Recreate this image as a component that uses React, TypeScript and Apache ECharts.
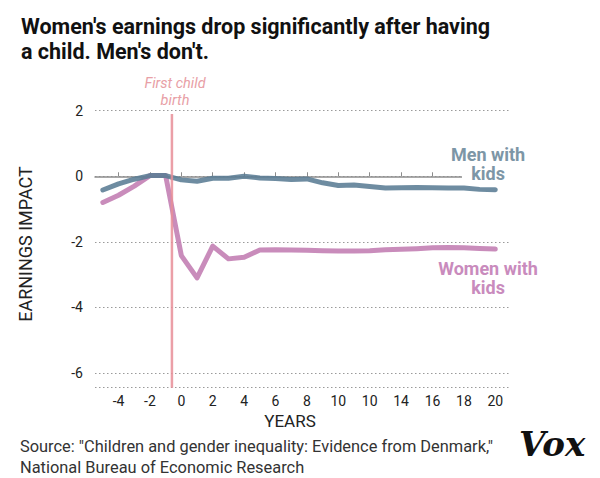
import React, { useEffect, useRef } from 'react';
import * as echarts from 'echarts';

// years relative to first child birth
const years = [-5, -4, -3, -2, -1, 0, 1, 2, 3, 4, 5, 6, 7, 8, 9, 10, 11, 12, 13, 14, 15, 16, 17, 18, 19, 20];
const menImpact = [-0.42, -0.23, -0.09, 0.02, 0.02, -0.11, -0.15, -0.06, -0.06, 0.0, -0.05, -0.07, -0.1, -0.08, -0.2, -0.28, -0.27, -0.31, -0.36, -0.35, -0.34, -0.35, -0.36, -0.36, -0.4, -0.41];
const womenImpact = [-0.8, -0.58, -0.3, 0.02, 0.02, -2.42, -3.1, -2.13, -2.52, -2.47, -2.25, -2.24, -2.25, -2.26, -2.27, -2.28, -2.28, -2.27, -2.24, -2.23, -2.21, -2.18, -2.17, -2.18, -2.2, -2.22];

// the source chart labels 12 as "10"
const xTickValues = [-4, -2, 0, 2, 4, 6, 8, 10, 12, 14, 16, 18, 20];
const xTickLabels = ['-4', '-2', '0', '2', '4', '6', '8', '10', '10', '14', '16', '18', '20'];
const yTickValues = [2, 0, -2, -4, -6];

const birthYear = -0.6;
const birthLineTop = 1.9;
const yMin = -6.45;
const yMax = 2;

const FONT = 'Roboto, "Liberation Sans", sans-serif';
const TITLE_FONT = '"Liberation Sans Narrow", Roboto, sans-serif';

export default function App() {
  const chartRef = useRef<HTMLDivElement>(null);

  useEffect(() => {
    document.body.style.margin = '0';
    if (!chartRef.current) return;
    const chart = echarts.init(chartRef.current, null, { renderer: 'svg' });

    const option = {
      animation: false,
      backgroundColor: '#fff',
      textStyle: { fontFamily: FONT },
      grid: { left: 95, right: 89, top: 110.7, bottom: 90.3 },
      xAxis: {
        type: 'value',
        min: -5.5,
        max: 21,
        axisLine: { show: true, lineStyle: { color: '#8c8c8c', width: 1.5 } },
        axisTick: {
          show: true,
          customValues: xTickValues,
          inside: true,
          length: 4,
          lineStyle: { color: '#8c8c8c' }
        },
        axisLabel: {
          customValues: xTickValues,
          formatter: (v: number) => xTickLabels[xTickValues.indexOf(v)],
          fontSize: 14,
          color: '#222',
          margin: 6
        },
        splitLine: { show: false }
      },
      yAxis: {
        type: 'value',
        min: yMin,
        max: yMax,
        axisLine: { show: false },
        axisTick: { show: false },
        axisLabel: {
          customValues: yTickValues,
          fontSize: 14,
          color: '#222',
          margin: 12
        },
        splitLine: {
          show: true,
          lineStyle: { color: '#9a9a9a', width: 1, type: [1.5, 2.5] }
        }
      },
      series: [
        {
          name: 'Women with kids',
          type: 'line',
          z: 2,
          symbol: 'none',
          data: years.map((y, i) => [y, womenImpact[i]]),
          lineStyle: { width: 5, color: 'rgba(194,124,178,0.88)', cap: 'round', join: 'round' }
        },
        {
          name: 'Men with kids',
          type: 'line',
          z: 3,
          symbol: 'none',
          data: years.map((y, i) => [y, menImpact[i]]),
          lineStyle: { width: 5, color: 'rgba(90,124,148,0.88)', cap: 'round', join: 'round' }
        },
        {
          name: 'First child birth',
          type: 'line',
          z: 4,
          symbol: 'none',
          data: [[birthYear, birthLineTop], [birthYear, yMin]],
          lineStyle: { width: 2.5, color: 'rgba(232,142,152,0.85)' }
        }
      ],
      graphic: [
        {
          type: 'text',
          left: 21,
          top: 15,
          style: {
            text: "Women's earnings drop significantly after having",
            fontFamily: TITLE_FONT,
            fontWeight: 'bold',
            fontSize: 21.5,
            fill: '#111'
          }
        },
        {
          type: 'text',
          left: 21,
          top: 40,
          style: {
            text: "a child. Men's don't.",
            fontFamily: TITLE_FONT,
            fontWeight: 'bold',
            fontSize: 21.5,
            fill: '#111'
          }
        },
        {
          type: 'text',
          x: 175,
          y: 76,
          style: {
            text: 'First child',
            textAlign: 'center',
            fontFamily: FONT,
            fontStyle: 'italic',
            fontSize: 14.5,
            fill: '#e8a0a6'
          }
        },
        {
          type: 'text',
          x: 175,
          y: 93,
          style: {
            text: 'birth',
            textAlign: 'center',
            fontFamily: FONT,
            fontStyle: 'italic',
            fontSize: 14.5,
            fill: '#e8a0a6'
          }
        },
        {
          type: 'rect',
          shape: { x: 462, y: 172, width: 52, height: 7 },
          style: { fill: '#fff' },
          z: 10
        },
        {
          type: 'text',
          x: 488,
          y: 145,
          z: 11,
          style: {
            text: 'Men with\nkids',
            textAlign: 'center',
            fontFamily: FONT,
            fontWeight: 'bold',
            fontSize: 18,
            lineHeight: 19,
            fill: '#7d96a6'
          }
        },
        {
          type: 'text',
          x: 488,
          y: 259,
          z: 11,
          style: {
            text: 'Women with\nkids',
            textAlign: 'center',
            fontFamily: FONT,
            fontWeight: 'bold',
            fontSize: 18,
            lineHeight: 19,
            fill: '#c98bbd'
          }
        },
        {
          type: 'text',
          x: 25,
          y: 244,
          rotation: Math.PI / 2,
          style: {
            text: 'EARNINGS IMPACT',
            textAlign: 'center',
            textVerticalAlign: 'middle',
            fontFamily: FONT,
            fontSize: 18,
            fill: '#222'
          }
        },
        {
          type: 'text',
          x: 290,
          y: 421,
          style: {
            text: 'YEARS',
            textAlign: 'center',
            textVerticalAlign: 'middle',
            fontFamily: FONT,
            fontSize: 17,
            fill: '#222'
          }
        },
        {
          type: 'text',
          x: 20,
          y: 436,
          style: {
            text: 'Source: "Children and gender inequality: Evidence from Denmark,"\nNational Bureau of Economic Research',
            fontFamily: FONT,
            fontSize: 16.4,
            lineHeight: 21,
            fill: '#333'
          }
        },
        {
          type: 'text',
          x: 519,
          y: 444,
          style: {
            text: 'Vox',
            textVerticalAlign: 'middle',
            fontFamily: '"DejaVu Serif", serif',
            fontWeight: 900,
            fontStyle: 'italic',
            fontSize: 34,
            fill: '#111'
          }
        }
      ]
    };

    chart.setOption(option);

    return () => {
      chart.dispose();
    };
  }, []);

  return <div ref={chartRef} style={{ width: 600, height: 478 }} />;
}
